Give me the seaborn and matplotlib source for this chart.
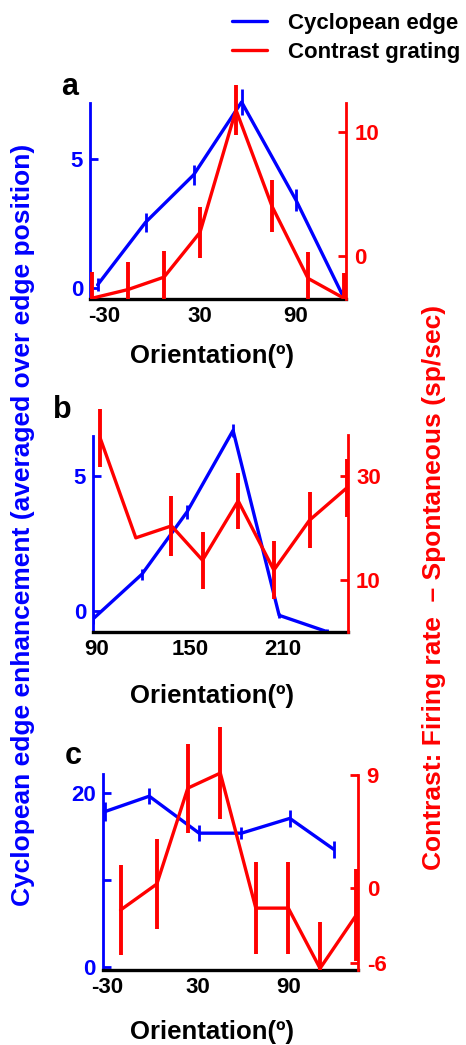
import matplotlib
matplotlib.use("Agg")
import matplotlib.pyplot as plt
import seaborn as sns

# ---- Panel a: edge (blue) vs grating (red) orientation tuning ----
edge_ori_a = [-34, -4, 26, 56, 90, 119]
edge_val_a = [0.12, 2.55, 4.39, 7.22, 3.41, -0.27]
edge_err_a = [0.25, 0.37, 0.40, 0.50, 0.43, 0.20]
grat_ori_a = [-37.5, -15, 7.5, 30, 52.5, 75, 97.5, 120]
grat_val_a = [-3.4, -2.7, -1.7, 1.9, 11.75, 4.0, -1.8, -3.4]
grat_err_a = [2.1, 2.2, 2.1, 2.05, 2.0, 2.1, 2.1, 2.0]

# ---- Panel b ----
edge_ori_b = [87.5, 119, 148, 177.7, 207.4, 238.4]
edge_val_b = [-0.3, 1.36, 3.67, 6.7, -0.17, -0.78]
edge_err_b = [0.2, 0.2, 0.25, 0.25, 0.1, 0.1]
grat_ori_b = [92, 115, 138, 158, 181, 204, 227, 251]
grat_val_b = [37.3, 18.1, 20.4, 13.8, 25.2, 11.9, 21.5, 27.7]
grat_err_b = [5.5, 0.0, 5.8, 5.5, 5.4, 5.5, 5.4, 5.5]

# ---- Panel c ----
edge_ori_c = [-31, -2, 31, 59, 91, 120]
edge_val_c = [17.85, 19.6, 15.35, 15.35, 17.05, 13.5]
edge_err_c = [1.05, 0.95, 0.95, 0.7, 0.95, 0.95]
grat_ori_c = [-21, 3, 23.5, 45, 68.5, 90, 111, 135]
grat_val_c = [-1.75, 0.32, 7.96, 9.16, -1.6, -1.6, -6.4, -2.15]
grat_err_c = [3.6, 3.6, 3.55, 3.65, 3.65, 3.65, 3.66, 3.7]

# tick positions / labels
xticks_a = [-30, 30, 90]
xticks_b = [90, 150, 210]
xticks_c = [-30, 30, 90]
edge_ticks_a, edge_labels_a = [0, 5], ["0", "5"]
edge_ticks_b, edge_labels_b = [0, 5], ["0", "5"]
edge_ticks_c, edge_labels_c = [0, 10, 20], ["0", "", "20"]
grat_ticks_a = [0, 10]
grat_ticks_b = [10, 30]
grat_ticks_c = [-6, 0, 9]

BLUE = "#0000ff"
RED = "#ff0000"

sns.set_theme(style="white")
plt.rcParams.update({
    "font.family": ["Liberation Sans", "DejaVu Sans"],
    "font.weight": "bold",
    "axes.unicode_minus": False,
    "text.color": "black",
})

W, H = 466, 1045
fig = plt.figure(figsize=(W / 100, H / 100), dpi=100)


def rect(x0, x1, ybot, ytop):
    return [x0 / W, 1 - ybot / H, (x1 - x0) / W, (ybot - ytop) / H]


def panel(box, xlim, xticks,
          ex, ey, ee, eylim, ebound, eticks, elabels,
          gx, gy, ge, gylim, gbound, gticks):
    ax = fig.add_axes(box)
    sns.lineplot(x=ex, y=ey, ax=ax, color=BLUE, linewidth=2.4)
    edge_line = ax.get_lines()[-1]
    ax.errorbar(ex, ey, yerr=ee, fmt="none", ecolor=BLUE, elinewidth=2.0, capsize=0)
    ax.set_xlim(*xlim)
    ax.set_ylim(*eylim)
    ax.set_xticks(xticks)
    ax.set_xticklabels([str(t) for t in xticks])
    ax.set_yticks(eticks)
    ax.set_yticklabels(elabels)
    ax.set_xlabel("")
    ax.set_ylabel("")

    ax2 = ax.twinx()
    sns.lineplot(x=gx, y=gy, ax=ax2, color=RED, linewidth=2.4)
    grat_line = ax2.get_lines()[-1]
    ax2.errorbar(gx, gy, yerr=ge, fmt="none", ecolor=RED, elinewidth=2.8, capsize=0)
    ax2.set_ylim(*gylim)
    ax2.set_yticks(gticks)
    ax2.set_yticklabels([str(t) for t in gticks])
    ax2.set_ylabel("")

    for s in ("top", "right"):
        ax.spines[s].set_visible(False)
    for s in ("top", "left", "bottom"):
        ax2.spines[s].set_visible(False)
    ax.spines["left"].set_color(BLUE)
    ax.spines["left"].set_linewidth(2.0)
    ax.spines["left"].set_bounds(*ebound)
    ax.spines["bottom"].set_color("black")
    ax.spines["bottom"].set_linewidth(2.4)
    ax2.spines["right"].set_color(RED)
    ax2.spines["right"].set_linewidth(2.0)
    ax2.spines["right"].set_bounds(*gbound)

    ax.tick_params(axis="x", colors="black", direction="in", length=9, width=2.4,
                   labelsize=16, pad=5)
    ax.tick_params(axis="y", colors=BLUE, direction="in", length=6, width=2.0,
                   labelsize=16, pad=5)
    ax2.tick_params(axis="y", colors=RED, direction="in", length=6, width=2.0,
                    labelsize=16, pad=6)
    ax.grid(False)
    ax2.grid(False)
    return edge_line, grat_line


edge_handle, grat_handle = panel(
    rect(90, 346, 299, 75), (-38.75, 121.25), xticks_a,
    edge_ori_a, edge_val_a, edge_err_a, (-0.43, 8.27), (-0.43, 7.17),
    edge_ticks_a, edge_labels_a,
    grat_ori_a, grat_val_a, grat_err_a, (-3.46, 14.56), (-3.46, 12.34), grat_ticks_a)

panel(
    rect(93, 347.7, 632, 400), (87.4, 251.6), xticks_b,
    edge_ori_b, edge_val_b, edge_err_b, (-0.79, 7.83), (-0.79, 6.5),
    edge_ticks_b, edge_labels_b,
    grat_ori_b, grat_val_b, grat_err_b, (0, 44.6), (0, 37.9), grat_ticks_b)

panel(
    rect(102.7, 358.3, 970, 720), (-32.8, 136.3), xticks_c,
    edge_ori_c, edge_val_c, edge_err_c, (-0.38, 28.36), (-0.38, 22.1),
    edge_ticks_c, edge_labels_c,
    grat_ori_c, grat_val_c, grat_err_c, (-6.53, 13.39), (-6.53, 9.0), grat_ticks_c)

# panel letters
for letter, px, py in (("a", 61, 95), ("b", 53, 418), ("c", 65, 764)):
    fig.text(px / W, 1 - py / H, letter, fontsize=22, fontweight="bold",
             color="black", ha="left", va="baseline")

# x-axis titles
for py in (363, 703, 1039):
    fig.text(212 / W, 1 - py / H, "Orientation(º)", fontsize=18.5, fontweight="bold",
             color="black", ha="center", va="baseline")

# y-axis titles
fig.text(23 / W, 1 - 525 / H, "Cyclopean edge enhancement (averaged over edge position)",
         rotation=90, fontsize=19, fontweight="bold", color=BLUE,
         ha="center", va="center")
fig.text(434 / W, 1 - 587 / H, "Contrast: Firing rate  \u2013 Spontaneous (sp/sec)",
         rotation=90, fontsize=19, fontweight="bold", color=RED,
         ha="center", va="center")

leg = fig.legend(handles=[edge_handle, grat_handle],
                 labels=["Cyclopean edge", "Contrast grating"],
                 loc="upper left", bbox_to_anchor=(232 / W, 1 - 13 / H),
                 frameon=False, borderpad=0, borderaxespad=0,
                 handlelength=1.58, handletextpad=0.95, labelspacing=0.34,
                 prop={"size": 16, "weight": "bold"})
for t in leg.get_texts():
    t.set_color("black")

fig.savefig("out.png", dpi=100)
